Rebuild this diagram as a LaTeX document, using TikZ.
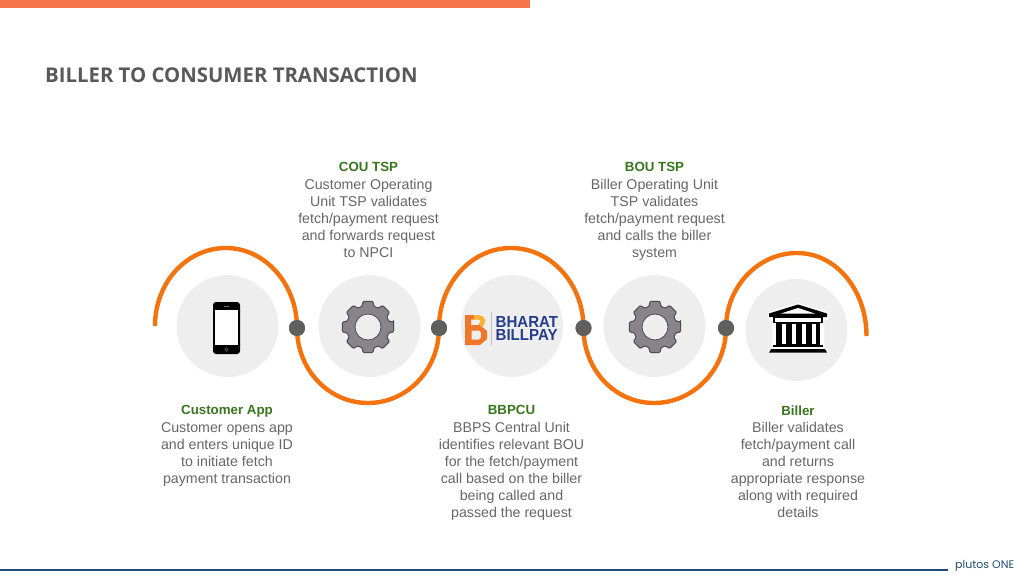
\documentclass[tikz,border=0pt]{standalone}
\usepackage{fontspec}
\setmainfont{Liberation Sans}
\newfontfamily\titlefont{Open Sans}
\newfontfamily\brandfont{Poppins}
\usetikzlibrary{positioning}

\definecolor{barorange}{HTML}{F4764A}
\definecolor{waveorange}{HTML}{F5730F}
\definecolor{discgrey}{HTML}{EEEEEE}
\definecolor{dotgrey}{HTML}{5F5F5F}
\definecolor{headgreen}{HTML}{38761D}
\definecolor{bodygrey}{HTML}{666666}
\definecolor{titlegrey}{HTML}{595959}
\definecolor{footblue}{HTML}{1F4B75}
\definecolor{logoblue}{HTML}{243C8C}
\definecolor{logoorange}{HTML}{F0762A}
\definecolor{logoyellow}{HTML}{F9B233}
\definecolor{geargrey}{HTML}{87858A}

\newcommand{\headline}[1]{{\fontsize{13.3}{17.1}\selectfont\bfseries\color{headgreen}#1}}

\begin{document}
\begin{tikzpicture}[
    x=1pt, y=-1pt,
    disc/.style={circle, fill=discgrey, minimum size=102pt, inner sep=0pt},
    dot/.style={circle, fill=dotgrey, minimum size=16pt, inner sep=0pt},
    wave/.style={draw=waveorange, line width=4.4pt},
    info/.style={anchor=north, align=center, inner sep=0pt, text=bodygrey, font=\fontsize{14.2}{17.1}\selectfont},
    logotext/.style={anchor=west, inner sep=0pt, text height=11pt, text depth=0pt, text=logoblue, font=\fontsize{16}{16}\selectfont\bfseries},
    gearicon/.pic={
        \draw[fill=geargrey, draw=black!70, line width=1pt, rounded corners=1pt]
            (-11:26) \foreach \a in {0,45,...,315} {
                -- (\a-11:26) -- (\a+11:26) -- (\a+16:21.5) -- (\a+29:21.5)
            } -- cycle;
        \fill[discgrey, draw=black!70, line width=0.8pt] (0,0) circle (13);
    }
]
    \useasboundingbox (0,0) rectangle (1024,576);

    % header and footer
    \node[fill=barorange, minimum width=530pt, minimum height=7.5pt, inner sep=0pt, anchor=north west] (topbar) at (0,0) {};
    \node[anchor=west, inner sep=0pt, text=titlegrey, font=\titlefont\fontsize{20.35}{24}\selectfont\bfseries] (title) at (45,75) {BILLER TO CONSUMER TRANSACTION};
    \node[fill=footblue, minimum width=948pt, minimum height=2pt, inner sep=0pt, anchor=west] (footline) at (0,570) {};
    \node[anchor=west, inner sep=0pt, text=footblue, font=\brandfont\fontsize{11}{12}\selectfont] (brand) at (955,566) {plutos ONE};

    % discs
    \node[disc] (app) at (227.5,326) {};
    \node[disc] (cou) at (369.5,326) {};
    \node[disc] (bbpcu) at (512,326) {};
    \node[disc] (bou) at (654.5,326) {};
    \node[disc] (biller) at (796.5,330) {};

    % wave
    \coordinate (start) at (155,326);
    \coordinate (stop) at (866.5,336);
    \node[dot] (dot1) at (297,328) {};
    \node[dot] (dot2) at (439,328) {};
    \node[dot] (dot3) at (583.5,328) {};
    \node[dot] (dot4) at (726,328) {};
    \coordinate (top1) at (226,248);
    \coordinate (low1) at (368,403);
    \coordinate (top2) at (511,248);
    \coordinate (low2) at (654,403);
    \coordinate (top3) at (797,253);

    \draw[wave] (start) .. controls +(0,-44) and +(-39,0) .. (top1) .. controls +(39,0) and +(0,-44) .. (dot1.center);
    \draw[wave] (dot1.center) .. controls +(0,42) and +(-39,0) .. (low1) .. controls +(39,0) and +(0,42) .. (dot2.center);
    \draw[wave] (dot2.center) .. controls +(0,-44) and +(-40,0) .. (top2) .. controls +(40,0) and +(0,-44) .. (dot3.center);
    \draw[wave] (dot3.center) .. controls +(0,42) and +(-39,0) .. (low2) .. controls +(39,0) and +(0,42) .. (dot4.center);
    \draw[wave] (dot4.center) .. controls +(0,-41) and +(-39,0) .. (top3) .. controls +(39,0) and +(0,-46) .. (stop);
    \fill[dotgrey] (dot1) circle (8);
    \fill[dotgrey] (dot2) circle (8);
    \fill[dotgrey] (dot3) circle (8);
    \fill[dotgrey] (dot4) circle (8);

    % phone
    \fill[black, rounded corners=3pt] (213,302) rectangle (240,354);
    \fill[white] (215,310) rectangle (238,344.5);
    \fill[black!60] (224,306) rectangle (229,307);
    \draw[black!60, line width=0.6pt] (226.5,349.5) circle (1.8);

    % gears
    \pic at (368,327) {gearicon};
    \pic at (655,327) {gearicon};

    % logo
    \fill[logoorange, even odd rule] (465,315) -- (474,315) -- (474,319.5) -- (471,319.5) -- (471,325) -- (480,325) -- (487,331) -- (487,339) -- (480,345) -- (465,345) -- cycle
        (471.5,330.5) -- (479,330.5) -- (481,332.5) -- (481,337.5) -- (479,339.5) -- (471.5,339.5) -- cycle;
    \draw[logoyellow, line width=4.5pt] (474,317.3) -- (478,317.3) .. controls (484,317.3) and (484,323) .. (480,325.5);
    \draw[black!25, line width=0.7pt] (491,312) -- (491,345);
    \node[logotext] (logotop) at (495.5,321.5) {\scalebox{0.94}[1]{BHARAT}};
    \node[logotext] (logolow) at (495.5,335) {\scalebox{0.94}[1]{BILLPAY}};

    % bank
    \draw[white, line width=2pt, fill=white, line join=round] (798,304) -- (827,313) -- (827,319) -- (823,319) -- (823,347) -- (827,352) -- (769,352) -- (773,347) -- (773,319) -- (769,319) -- (769,313) -- cycle;
    \fill[black] (798,304.5) -- (827,313.5) -- (827,317) -- (769,317) -- (769,313.5) -- cycle;
    \fill[white] (798,308) -- (815,313.5) -- (781,313.5) -- cycle;
    \draw[black, fill=white, line width=1.4pt] (774,317) rectangle (822,322.5);
    \fill[black] (776,322.5) rectangle (820,345);
    \foreach \x in {781.5,791.5,801.5,811.5} {
        \fill[white] (\x,324) rectangle (\x+4,344);
    }
    \fill[black] (773,344.5) rectangle (823,346.5);
    \fill[white] (773,346.5) rectangle (823,349.5);
    \fill[black] (771,349) -- (825,349) -- (827,352.5) -- (769,352.5) -- cycle;

    % labels
    \node[info] (coutext) at (368.5,162.5) {\headline{COU TSP}\\Customer Operating\\Unit TSP validates\\fetch/payment request\\and forwards request\\to NPCI};
    \node[info] (boutext) at (654.5,162.5) {\headline{BOU TSP}\\Biller Operating Unit\\TSP validates\\fetch/payment request\\and calls the biller\\system};
    \node[info] (apptext) at (227,405.5) {\headline{Customer App}\\Customer opens app\\and enters unique ID\\to initiate fetch\\payment transaction};
    \node[info] (bbpcutext) at (511.5,405.5) {\headline{BBPCU}\\BBPS Central Unit\\identifies relevant BOU\\for the fetch/payment\\call based on the biller\\being called and\\passed the request};
    \node[info] (billertext) at (798,405.5) {\headline{Biller}\\Biller validates\\fetch/payment call\\and returns\\appropriate response\\along with required\\details};
\end{tikzpicture}
\end{document}
